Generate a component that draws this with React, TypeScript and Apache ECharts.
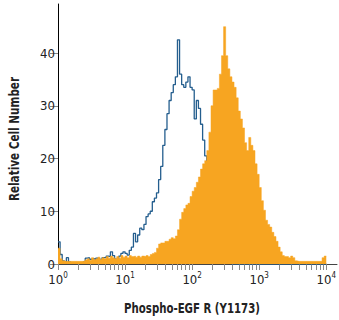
import React, { useEffect, useRef } from "react";
import * as echarts from "echarts";

// Histogram bins: 32 bins per decade, from 10^0 to 10^4
const binsPerDecade = 32;
const decadeExponents = [0, 1, 2, 3, 4];
const yTickValues = [0, 10, 20, 30, 40];
const minorMultipliers = [2, 3, 4, 5, 6, 7, 8, 9];

// Isotype control (blue outline)
const isotypeCounts = [
  4.2, 1.8, 0.6, 0.4, 1.2, 0.4, 0.2, 0.2, 0.2, 0.2, 0.2, 0.2, 0.4, 1.1, 1.2, 0.9,
  1.0, 0.9, 1.1, 1.0, 0.7, 1.2, 1.2, 1.5, 1.4, 2.3, 1.6, 0.9, 1.0, 1.5, 2.0, 2.3,
  2.0, 1.7, 2.6, 3.2, 5.8, 4.2, 5.5, 6.8, 6.5, 7.5, 9.0, 9.5, 10.0, 11.8, 12.5, 13.5,
  16.0, 18.5, 22.5, 25.5, 28.5, 31.0, 32.5, 34.0, 35.5, 42.5, 36.0, 34.0, 33.5, 34.5, 35.5, 33.5,
  33.0, 27.5, 31.0, 29.5, 26.5, 23.5, 20.5, 17.0, 13.0, 9.0, 6.0, 4.0, 3.0, 2.0, 1.5, 1.0,
  0.8, 0.5, 0.3, 0, 0, 0, 0, 0, 0, 0, 0, 0, 0, 0, 0, 0,
  0, 0, 0, 0, 0, 0, 0, 0, 0, 0, 0, 0, 0, 0, 0, 0,
  0, 0, 0, 0, 0, 0, 0, 0, 0, 0, 0, 0, 0, 0, 0, 0,
];

// Phospho-EGF R (Y1173) stained (orange filled)
const phosphoCounts = [
  3.0, 1.0, 0.6, 0.5, 0.5, 0.5, 0.5, 0.5, 0.5, 0.5, 0.5, 0.5, 0.6, 0.8, 1.0, 0.7,
  1.2, 0.8, 1.0, 1.3, 0.9, 1.2, 1.0, 1.4, 1.1, 1.5, 1.2, 1.0, 1.4, 1.1, 1.6, 1.3,
  1.5, 1.2, 1.6, 1.4, 1.5, 1.3, 1.5, 1.3, 1.5, 1.4, 1.6, 1.4, 1.8, 2.0, 2.2, 3.0,
  3.8, 4.0, 4.0, 4.3, 4.3, 4.7, 5.0, 4.8, 5.3, 6.5, 8.5, 9.8, 10.5, 11.2, 11.5, 12.8,
  13.8, 14.5, 15.5, 16.5, 18.0, 19.0, 19.6, 21.5, 25.0, 30.0, 33.0, 33.0, 33.3, 36.0, 39.5, 45.0,
  39.5, 37.0, 35.5, 34.5, 33.5, 31.5, 29.0, 27.5, 25.8, 23.0, 21.5, 24.0, 22.5, 21.5, 19.0, 17.0,
  14.5, 12.0, 10.2, 8.3, 7.5, 7.0, 6.0, 5.2, 4.3, 3.2, 2.3, 1.6, 1.4, 1.4, 1.2, 1.5,
  1.2, 0.6, 0.5, 0.5, 0.5, 0.5, 0.5, 0.5, 0.5, 0.5, 0.5, 0.5, 0.5, 0.5, 1.2, 1.5,
];

const FONT = "'Liberation Sans Narrow', 'DejaVu Sans Condensed', 'Noto Sans', sans-serif";

function toStepData(counts: number[]): [number, number][] {
  const pts: [number, number][] = counts.map((c, i) => [i / binsPerDecade, c]);
  pts.push([counts.length / binsPerDecade, counts[counts.length - 1]]);
  return pts;
}

const supers: Record<number, string> = { 0: "0", 1: "1", 2: "2", 3: "3", 4: "4" };

export default function App() {
  const ref = useRef<HTMLDivElement>(null);
  useEffect(() => {
    if (!ref.current) return;
    const chart = echarts.init(ref.current, undefined, { renderer: "svg" });
    const tickValues: number[] = [];
    decadeExponents.forEach((e) => {
      tickValues.push(e);
      if (e < 4) minorMultipliers.forEach((m) => tickValues.push(e + Math.log10(m)));
    });
    chart.setOption({
      animation: false,
      grid: { left: 58, right: 2, top: 4, bottom: 56, containLabel: false },
      xAxis: {
        type: "value",
        min: 0,
        max: 4.16,
        axisLine: { show: true, lineStyle: { color: "#444", width: 1 } },
        axisTick: { show: true, customValues: tickValues, length: 6, lineStyle: { color: "#888" } },
        axisLabel: {
          customValues: decadeExponents,
          margin: 7,
          formatter: (v: number) => `{b|10}{s|${supers[Math.round(v)]}}`,
          rich: {
            b: { fontFamily: FONT, fontSize: 13, color: "#222", lineHeight: 16 },
            s: { fontFamily: FONT, fontSize: 8, color: "#222", lineHeight: 9, verticalAlign: "top" },
          },
        },
        splitLine: { show: false },
      },
      yAxis: {
        type: "value",
        min: 0,
        max: 49.3,
        axisLine: { show: true, lineStyle: { color: "#000", width: 1 } },
        axisTick: { show: true, customValues: yTickValues, length: 8, lineStyle: { color: "#888" } },
        axisLabel: {
          customValues: yTickValues,
          margin: 3,
          fontFamily: FONT,
          fontSize: 13,
          color: "#222",
        },
        splitLine: { show: false },
      },
      graphic: [
        {
          type: "text",
          x: 14,
          y: 139,
          rotation: Math.PI / 2,
          scaleX: 0.83,
          style: {
            text: "Relative Cell Number",
            font: `bold 14px ${FONT}`,
            fill: "#222",
            textAlign: "center",
            textVerticalAlign: "middle",
          },
        },
        {
          type: "text",
          x: 192,
          y: 308,
          scaleX: 0.81,
          style: {
            text: "Phospho-EGF R (Y1173)",
            font: `bold 14px ${FONT}`,
            fill: "#222",
            textAlign: "center",
            textVerticalAlign: "middle",
          },
        },
      ],
      series: [
        {
          type: "line",
          step: "end",
          symbol: "none",
          data: toStepData(isotypeCounts),
          lineStyle: { color: "#245e8e", width: 1.3 },
          z: 2,
        },
        {
          type: "line",
          step: "end",
          symbol: "none",
          data: toStepData(phosphoCounts),
          lineStyle: { color: "#f7a521", width: 0.5 },
          areaStyle: { color: "#f7a521", opacity: 1 },
          z: 3,
        },
      ],
    });
    return () => chart.dispose();
  }, []);
  return (
    <div
      ref={ref}
      style={{ position: "fixed", left: 0, top: 0, width: 339, height: 320, background: "#fff" }}
    />
  );
}
